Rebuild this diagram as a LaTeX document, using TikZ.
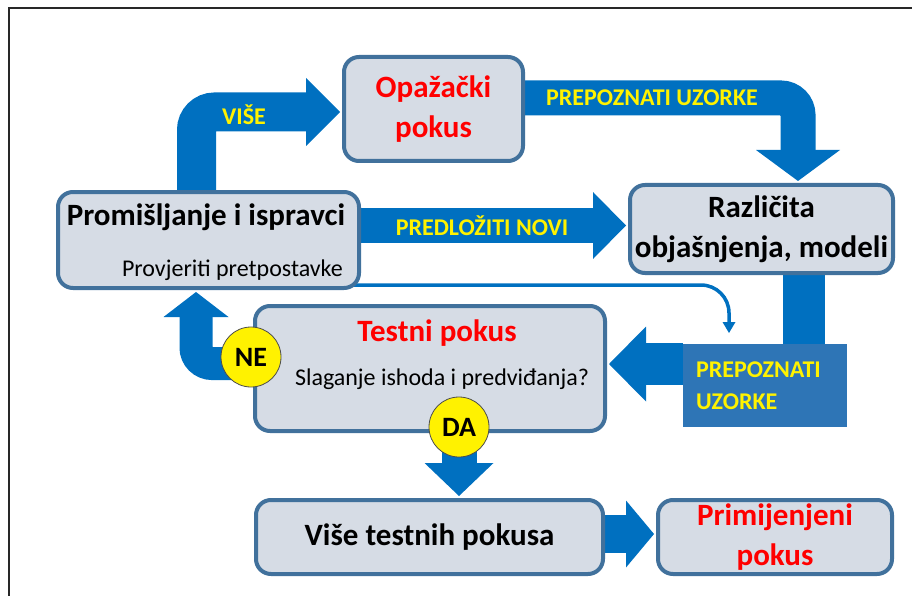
\documentclass[tikz,border=0pt]{standalone}
\usepackage{fontspec}
\setmainfont{Carlito}
\usetikzlibrary{arrows.meta,calc,backgrounds}
\definecolor{arrowblue}{RGB}{0,112,192}
\definecolor{boxfill}{RGB}{214,220,229}
\definecolor{boxline}{RGB}{65,113,156}
\definecolor{pubox}{RGB}{46,117,182}
\definecolor{framecol}{RGB}{40,40,40}
\newcommand\mytitlef{\fontsize{31}{40}\selectfont\bfseries}
\newcommand\mysubf{\fontsize{24}{30}\selectfont}
\newcommand\mylabf{\fontsize{24}{32}\selectfont\bfseries}
\newcommand\mycircf{\fontsize{28}{30}\selectfont\bfseries}
\tikzset{
  box/.style={draw=boxline, line width=4pt, fill=boxfill, rounded corners=15pt, inner sep=0pt},
  titlet/.style={font=\mytitlef, inner sep=0pt},
  subt/.style={font=\mysubf, inner sep=0pt},
  lab/.style={font=\mylabf, text=yellow, inner sep=0pt},
  circ/.style={circle, fill=yellow, draw=black!70, line width=0.8pt, minimum size=60pt, inner sep=0pt, font=\mycircf},
  fat/.style={draw=arrowblue, line width=#1},
  head/.style 2 args={-{Triangle[width=#1,length=#2,line width=0pt]}},
}
\begin{document}
\begin{tikzpicture}[x=1pt,y=-1pt]
\useasboundingbox (0,0) rectangle (912,596);
\draw[line width=2pt,framecol] (9,596) -- (9,8) -- (912,8);

% boxes
\node[box, minimum width=179pt, minimum height=104pt, text=red, font=\mytitlef, align=center] (opa) at (433.5,109) {Opažački\\pokus};
\node[box, minimum width=301pt, minimum height=96pt] (prom) at (208.5,240) {};
\node[titlet] (promt) at (206,217) {Promišljanje i ispravci};
\node[subt, anchor=east] (proms) at (343,270) {Provjeriti pretpostavke};
\node[box, minimum width=263pt, minimum height=88pt, font=\mytitlef, align=center] (razl) at (761.5,229) {Različita\\objašnjenja, modeli};
\node[box, minimum width=350pt, minimum height=125pt] (testni) at (430,368.5) {};
\node[titlet, text=red] (testt) at (437,333) {Testni pokus};
\node[subt] (tests) at (442,379) {Slaganje ishoda i predviđanja?};
\node[box, minimum width=347pt, minimum height=74pt, font=\mytitlef] (vise) at (429.5,537) {Više testnih pokusa};
\node[box, minimum width=234pt, minimum height=74pt, font=\mytitlef, text=red, align=center] (prim) at (775,537) {Primijenjeni\\pokus};
\node[fill=pubox, minimum width=164pt, minimum height=83pt, text width=138pt, inner xsep=13pt, inner ysep=0pt, align=left, font=\mylabf, text=yellow] (pu) at (765,385.5) {PREPOZNATI\\UZORKE};

% circles
\node[circ] (ne) at ($(testni.west)+(-2,-11.5)$) {NE};
\node[circ] (da) at ($(testni.south)+(29,-6)$) {DA};

% arrows
\begin{scope}[on background layer]
\draw[fat=39pt, rounded corners=18pt, head={68pt}{34pt}] ($(prom.north)+(-12,2)$) |- ($(opa.west)+(-2,3)$);
\draw[fat=35pt, rounded corners=17pt, head={84pt}{31pt}] ($(opa.east)+(-2,-11)$) -| ($(razl.north)+(36.5,-2)$);
\coordinate (pn) at ($(razl.west)+(-2,-3.5)$);
\draw[fat=35pt, head={67pt}{33pt}] (prom.east |- pn) -- (pn);
\coordinate (thintip) at (729,333);
\draw[draw=arrowblue, line width=3.5pt, rounded corners=28pt, -{Triangle[width=13pt,length=11pt,line width=0pt]}] ($(prom.south east)+(-10,-5)$) -| (thintip);
\draw[fat=42pt] ($(razl.south)+(42.5,0)$) -- ($(pu.north)+(39,2)$);
\coordinate (tn) at ($(testni.east)+(2,-4.5)$);
\draw[fat=42pt, head={75pt}{37pt}] (pu.west |- tn) -- (tn);
\draw[fat=33pt, rounded corners=16pt, head={65pt}{25pt}] ($(testni.west)+(2,-5)$) -| ($(prom.south)+(-12.5,2)$);
\draw[fat=35pt, head={69pt}{33pt}] (da.center) -- ($(da.center |- vise.north)+(0,-2)$);
\coordinate (pw) at ($(prim.west)+(-2,-3)$);
\draw[fat=38pt, head={67pt}{28pt}] (vise.east |- pw) -- (pw);
\end{scope}

% arrow labels
\node[lab] (lvise) at (244,115) {VIŠE};
\node[lab] (lpu) at (652,98) {PREPOZNATI UZORKE};
\node[lab] (lpn) at (482,226) {PREDLOŽITI NOVI};
\end{tikzpicture}
\end{document}
